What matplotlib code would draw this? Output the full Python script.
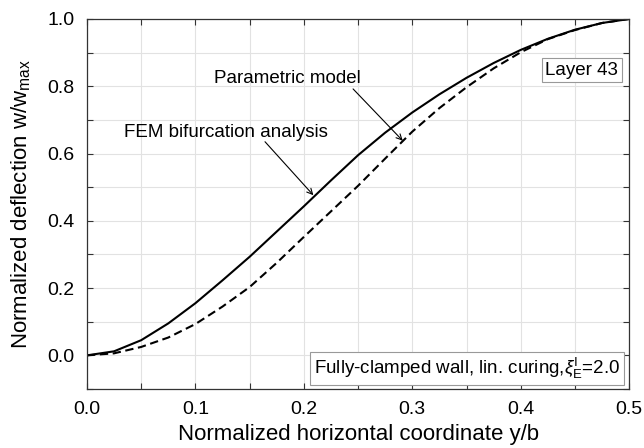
import matplotlib
matplotlib.use("Agg")
import matplotlib.pyplot as plt
from matplotlib.ticker import MultipleLocator, FormatStrFormatter

plt.rcParams["font.family"] = ["Liberation Sans", "DejaVu Sans"]
plt.rcParams["mathtext.fontset"] = "custom"
plt.rcParams["mathtext.rm"] = "Liberation Sans"
plt.rcParams["mathtext.it"] = "Liberation Sans:italic"

# normalized coordinate y/b
y_b = [0.0, 0.025, 0.05, 0.075, 0.1, 0.125, 0.15, 0.175, 0.2, 0.225, 0.25,
       0.275, 0.3, 0.325, 0.35, 0.375, 0.4, 0.425, 0.45, 0.475, 0.5]
# FEM bifurcation analysis (solid)
w_fem = [0.0, 0.012, 0.045, 0.095, 0.155, 0.223, 0.293, 0.368, 0.443, 0.520,
         0.595, 0.662, 0.722, 0.776, 0.825, 0.869, 0.908, 0.941, 0.968, 0.988, 1.0]
# parametric model (dashed)
w_par = [0.0, 0.006, 0.025, 0.053, 0.093, 0.145, 0.203, 0.275, 0.352, 0.428,
         0.504, 0.585, 0.665, 0.735, 0.797, 0.853, 0.901, 0.940, 0.967, 0.988, 1.0]

fig = plt.figure(figsize=(6.44, 4.48), dpi=100)
ax = fig.add_axes([0.135, 0.1317, 0.842, 0.826])

ax.plot(y_b, w_fem, color="black", lw=1.5, ls="-")
ax.plot(y_b, w_par, color="black", lw=1.5, ls=(0, (4, 2.2)))

ax.set_xlim(0, 0.5)
ax.set_ylim(-0.1, 1.0)
ax.xaxis.set_major_locator(MultipleLocator(0.1))
ax.xaxis.set_minor_locator(MultipleLocator(0.05))
ax.yaxis.set_major_locator(MultipleLocator(0.2))
ax.yaxis.set_minor_locator(MultipleLocator(0.1))
ax.xaxis.set_major_formatter(FormatStrFormatter("%.1f"))
ax.yaxis.set_major_formatter(FormatStrFormatter("%.1f"))

ax.grid(True, which="both", color="#e2e2e2", lw=0.8)
ax.set_axisbelow(True)
ax.tick_params(which="both", direction="in", top=True, right=True,
               length=4, width=0.8, color="#333333", labelsize=14, pad=9)
for s in ax.spines.values():
    s.set_color("#333333")
    s.set_linewidth(0.9)

ax.set_xlabel("Normalized horizontal coordinate y/b", fontsize=16, labelpad=4)
ax.set_ylabel(r"Normalized deflection w/w$_{\mathrm{max}}$", fontsize=16, labelpad=10)

arrow = dict(arrowstyle="->", color="black", lw=0.8, shrinkA=0, shrinkB=0)
ax.annotate("", xy=(0.2088, 0.476), xytext=(0.1642, 0.635), arrowprops=arrow)
ax.annotate("", xy=(0.2912, 0.638), xytext=(0.2454, 0.792), arrowprops=arrow)
ax.text(0.1278, 0.662, "FEM bifurcation analysis", fontsize=13.5,
        ha="center", va="center")
ax.text(0.185, 0.8235, "Parametric model", fontsize=13.5,
        ha="center", va="center")

box = dict(boxstyle="square,pad=0.2", fc="white", ec="#999999", lw=0.8)
ax.text(0.4564, 0.848, "Layer 43", fontsize=13.5, ha="center", va="center",
        bbox=box)
ax.text(0.3506, -0.0387,
        r"Fully-clamped wall, lin. curing,$\xi_{\mathrm{E}}^{\mathrm{I}}$=2.0",
        fontsize=13.5, ha="center", va="center", bbox=box)

fig.savefig("out.png", dpi=100)
